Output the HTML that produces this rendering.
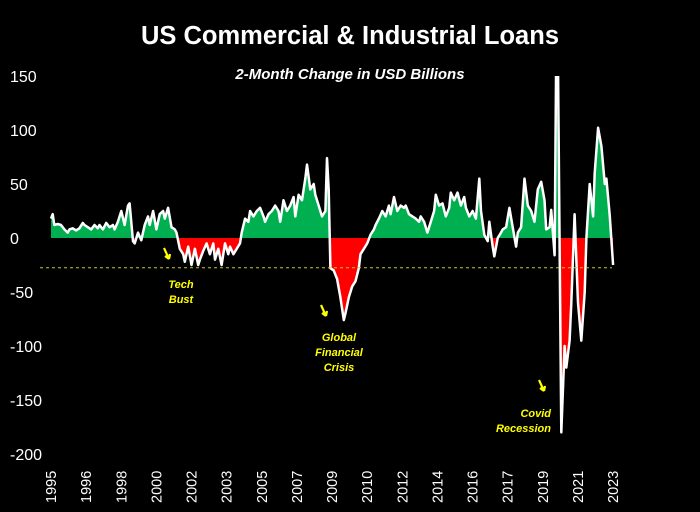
<!DOCTYPE html>
<html><head><meta charset="utf-8"><style>
html,body{margin:0;padding:0;background:#000;}
svg{display:block;font-family:"Liberation Sans",sans-serif;}
</style></head><body>
<svg id="chart" width="700" height="512">
<rect width="700" height="512" fill="#000"/>
<text x="350" y="44" text-anchor="middle" fill="#fff" font-size="25.5" font-weight="bold">US Commercial &amp; Industrial Loans</text>
<text x="350" y="79" text-anchor="middle" fill="#fff" font-size="15" font-weight="bold" font-style="italic">2-Month Change in USD Billions</text>
</svg>
<script>
const months=[0,1,2,4,6,8,10,11,13,15,17,19,20,22,24,26,28,29,31,33,35,37,38,40,42,44,46,47,49,50,52,54,56,58,59,61,63,65,67,68,70,72,74,75,77,79,80,82,84,86,88,89,91,93,95,97,98,100,102,104,106,107,109,111,113,114,116,118,119,121,123,125,127,128,130,132,134,136,137,139,141,143,145,146,148,150,152,153,155,157,158,160,162,164,165,166,167,169,171,173,175,176,178,180,182,184,185,187,189,191,193,194,196,198,200,202,203,205,207,209,211,212,214,216,218,220,221,223,225,227,229,230,232,234,236,238,239,241,243,245,247,248,250,252,254,256,257,259,261,262,264,265,267,269,270,272,274,276,278,279,281,283,285,287,289,291,293,295,296,298,299,301,302,303,305,307,308,310,311,313,315,317,319,320,322,324,325,327,329,331,332,334,336,338];
const values=[18,22,12,13,12,8,5,8,9,7,9,14,12,10,8,12,9,12,8,14,10,12,8,15,25,12,30,32,-3,-5,5,-2,12,20,12,25,8,22,25,18,28,10,8,5,-10,-15,-22,-8,-25,-10,-25,-20,-12,-5,-15,-5,-20,-10,-25,-5,-15,-8,-15,-10,-5,5,18,15,25,20,25,28,20,15,22,25,30,25,15,35,25,30,38,20,40,35,55,68,45,50,40,30,20,25,74,45,-28,-30,-38,-55,-76,-70,-55,-45,-40,-28,-15,-10,-5,3,8,12,18,25,20,30,22,38,25,30,28,30,22,20,18,15,20,15,5,15,25,40,30,32,20,28,42,35,42,30,38,28,20,25,18,55,25,3,-3,15,-8,-17,0,5,8,10,28,10,-8,5,10,55,30,25,15,45,52,35,8,10,26,-16,170,170,-180,-100,-120,-95,-60,22,-60,-95,-50,0,50,20,60,102,85,50,55,20,-25];
const yTicks=[150,100,50,0,-50,-100,-150,-200];
const xTickLabels=["1995","1996","1998","2000","2002","2003","2005","2007","2009","2010","2012","2014","2016","2017","2019","2021","2023"];
const xTickMonths=[0,21,42,63,84,105,126,147,168,189,210,231,252,273,294,315,336];
const refLevel=-27.5;

const NS="http://www.w3.org/2000/svg";
const svg=document.getElementById('chart');
const X=m=>51+m*1.673;
const Y=v=>238-v*1.08;
function mk(tag,attrs,parent){const e=document.createElementNS(NS,tag);for(const k in attrs)e.setAttribute(k,attrs[k]);(parent||svg).appendChild(e);return e;}

const defs=mk('defs',{});
const cp=mk('clipPath',{id:'plot'},defs);mk('rect',{x:0,y:76,width:700,height:400},cp);
const cpu=mk('clipPath',{id:'up'},defs);mk('rect',{x:0,y:76,width:700,height:Y(0)-76},cpu);
const cpd=mk('clipPath',{id:'down'},defs);mk('rect',{x:0,y:Y(0),width:700,height:300},cpd);

yTicks.forEach(t=>{const e=mk('text',{x:10,y:Y(t)+6,fill:'#fff','font-size':16});e.textContent=t;

});
xTickLabels.forEach((l,i)=>{const x=X(xTickMonths[i])+5;const e=mk('text',{x:0,y:0,fill:'#fff','font-size':14.5,transform:`translate(${x},503) rotate(-90)`});e.textContent=l;

});

const n=Math.min(months.length,values.length);
const pts=[];
for(let i=0;i<n;i++){const xx=X(months[i]),yy=Y(values[i]);if(isFinite(xx)&&isFinite(yy))pts.push(xx.toFixed(1)+','+yy.toFixed(1));}
const x0=pts[0].split(',')[0], x1=pts[pts.length-1].split(',')[0];
const area=`M${x0},${Y(0)} L`+pts.join(' L')+` L${x1},${Y(0)} Z`;
const g=mk('g',{'clip-path':'url(#plot)'});
const ga=mk('path',{d:area,fill:'#00b050','clip-path':'url(#up)'},g);


const ra=mk('path',{d:area,fill:'#ff0000','clip-path':'url(#down)'},g);


const ref=mk('line',{x1:40,x2:612,y1:Y(refLevel),y2:Y(refLevel),stroke:'#c8c832','stroke-width':1,'stroke-dasharray':'3,3'});


const ln=mk('polyline',{points:pts.join(' '),fill:'none',stroke:'#fff','stroke-width':2.5,'stroke-linejoin':'round'},g);



function note(lines,x,y,anchor,name,ax,ay){
 const t=mk('text',{x:x,y:y,fill:'#ffff00','font-size':11,'font-weight':'bold','font-style':'italic','text-anchor':anchor});
 lines.forEach((l,i)=>{const s=mk('tspan',{x:x,dy:i?15:0},t);s.textContent=l;});
 
 
 const a=mk('path',{d:`M${ax},${ay} L${ax+5},${ay+11} M${ax+5},${ay+11} L${ax+1},${ay+8} M${ax+5},${ay+11} L${ax+6},${ay+6}`,stroke:'#ffff00','stroke-width':2.2,fill:'none'});
 
 
}
note(['Tech','Bust'],181,288,'middle','tech-bust-note',164,248);
note(['Global','Financial','Crisis'],339,341,'middle','gfc-note',321,305);
note(['Covid','Recession'],551,417,'end','covid-note',539,380);
</script>
</body></html>
